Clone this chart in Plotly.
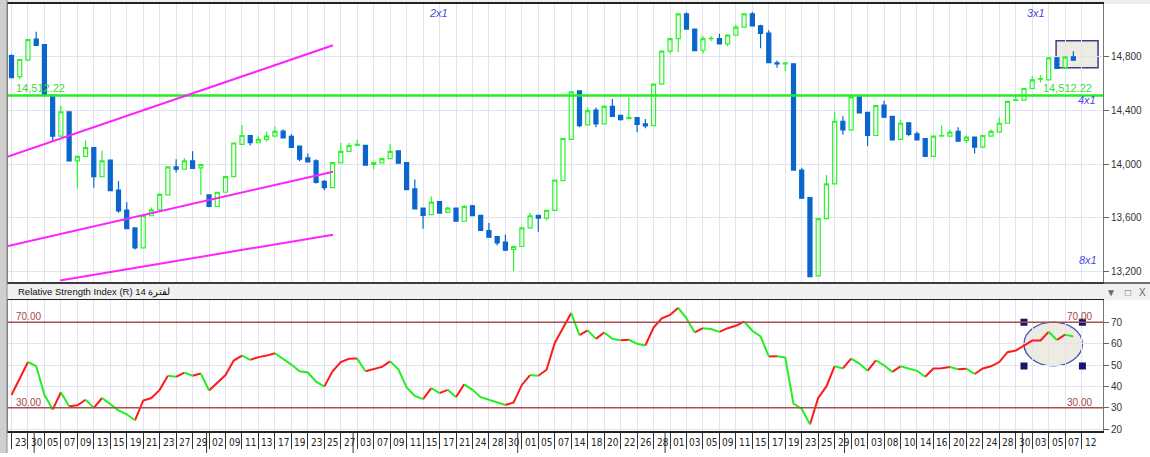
import plotly.graph_objects as go

W, H = 1150, 457

# ---------------- data ----------------
date_labels = ["23","30","05","07","09","13","15","19","21","23","27","29","02","09","11","13","17","19","23","25",
               "27","03","07","09","11","15","17","21","24","28","30","01","05","07","14","18","20","22","26","28",
               "01","03","05","09","11","15","17","19","23","25","29","01","03","08","10","14","16","20","22","24",
               "28","30","03","05","07","12"]

opens = [14810,14652,14775,14933,14891,14515,14209,14391,14025,14059,
         14123,13907,14030,13808,13658,13525,13377,13616,13660,13771,
         13980,13963,14025,13973,13771,13685,13791,13907,14148,14214,
         14160,14185,14209,14246,14207,14135,14047,14025,13872,13825,
         14010,14096,14140,14140,13998,14010,14042,14099,14012,13816,
         13673,13624,13722,13641,13673,13575,13690,13619,13506,13461,
         13419,13365,13387,13525,13619,13599,13656,13877,14185,14547,
         14293,14404,14300,14431,14364,14340,14347,14300,14288,14596,
         14842,14935,15120,15007,14849,14935,14935,14896,14962,15021,
         15120,15031,14977,14756,14748,14748,13956,13752,13168,13594,
         13853,14320,14256,14502,14387,14214,14441,14357,14185,14308,
         14227,14190,14059,14209,14209,14244,14177,14202,14128,14209,
         14239,14305,14475,14478,14564,14633,14628,14793,14714,14800]

highs = [14820,14785,14933,14987,14891,14515,14436,14391,14059,14177,
         14123,14101,14030,13875,13717,13525,13619,13678,13784,13985,
         14037,14047,14096,13998,13771,13791,13907,14158,14293,14214,
         14209,14244,14281,14259,14224,14135,14079,14037,13882,14012,
         14158,14158,14185,14140,14012,14042,14150,14099,14012,13887,
         13673,13759,13722,13685,13673,13697,13697,13619,13562,13461,
         13476,13392,13525,13636,13619,13656,13882,14190,14539,14547,
         14423,14423,14441,14485,14364,14497,14347,14337,14596,14842,
         14935,15125,15130,15007,14958,14953,14972,14967,15039,15125,
         15135,15039,14999,14773,14756,14748,13973,13752,13594,13919,
         14394,14357,14502,14517,14387,14436,14473,14357,14332,14308,
         14244,14190,14209,14288,14256,14276,14212,14202,14214,14259,
         14350,14468,14522,14570,14657,14662,14798,14793,14800,14842]

lows = [14640,14633,14775,14886,14515,14170,14209,14025,13820,14059,
        13825,13907,13803,13638,13520,13365,13377,13616,13660,13771,
        13939,13958,13968,13771,13680,13685,13791,13907,14148,14140,
        14160,14170,14209,14197,14126,14022,14017,13857,13806,13825,
        14010,14096,14140,13993,13963,14010,14042,14003,13811,13668,
        13520,13624,13636,13641,13575,13575,13616,13506,13456,13395,
        13353,13205,13387,13520,13496,13579,13656,13877,14185,14276,
        14293,14276,14300,14357,14325,14340,14239,14268,14288,14596,
        14825,14834,15007,14847,14825,14918,14896,14879,14962,15021,
        15031,14864,14756,14719,14694,13956,13747,13163,13168,13594,
        13853,14219,14256,14382,14135,14214,14350,14182,14185,14209,
        14182,14059,14059,14205,14204,14172,14158,14079,14128,14209,
        14239,14305,14473,14478,14564,14608,14628,14714,14714,14775]

closes = [14645,14780,14928,14886,14522,14209,14391,14025,14059,14123,
          13907,14025,13803,13653,13520,13377,13619,13660,13776,13980,
          13963,14025,13968,13998,13685,13791,13907,14158,14214,14160,
          14185,14209,14244,14197,14126,14037,14017,13865,13825,14012,
          14096,14138,14148,13993,14012,14042,14096,14008,13811,13668,
          13619,13717,13636,13673,13575,13685,13616,13506,13456,13414,
          13360,13387,13525,13616,13599,13656,13882,14190,14539,14288,
          14399,14300,14431,14357,14332,14347,14296,14286,14596,14842,
          14935,15120,15007,14847,14935,14938,14896,14962,15021,15120,
          15031,14975,14756,14748,14756,13956,13747,13163,13594,13853,
          14320,14256,14502,14382,14214,14436,14350,14182,14305,14222,
          14182,14059,14209,14214,14239,14172,14202,14128,14214,14244,
          14305,14468,14480,14564,14628,14638,14793,14714,14800,14775]

rsi = [36.0,43.7,51.4,49.5,36.1,29.2,37.3,30.8,31.2,33.8,
       30.0,34.6,31.5,28.8,27.0,24.2,33.4,34.6,38.4,45.0,
       44.5,46.5,45.0,46.0,38.1,41.5,45.3,52.1,54.4,52.4,
       53.7,54.4,55.5,52.9,50.2,47.1,46.5,42.2,39.9,47.1,
       51.4,52.9,53.0,47.1,48.0,49.1,51.7,48.0,39.5,35.6,
       34.1,39.2,36.9,38.4,35.0,41.0,38.4,35.0,33.8,32.7,
       31.3,32.5,40.7,45.3,45.0,47.8,60.3,67.5,74.3,64.0,
       66.2,62.2,65.2,62.2,61.6,61.8,59.9,59.1,67.5,71.8,
       73.4,76.7,71.8,65.2,67.2,66.8,65.5,67.2,68.3,70.3,
       66.0,63.4,54.0,54.1,53.5,32.0,29.5,22.3,34.6,40.0,
       49.5,48.4,53.0,50.7,47.3,52.2,49.9,46.8,49.4,48.4,
       47.3,44.5,48.4,48.5,49.1,48.0,48.3,45.8,48.4,49.4,
       51.4,56.0,56.8,59.1,61.4,61.5,65.5,61.7,64.2,63.3]

price_ticks = [13200, 13600, 14000, 14400, 14800]
price_tick_text = ["13,200", "13,600", "14,000", "14,400", "14,800"]
rsi_ticks = [20, 30, 40, 50, 60, 70]
level_price = 14512.22
rsi_levels = [70, 30]

# drawing objects (index, price) / (index, rsi)
fan_lines = [((-0.43, 14057), (39.06, 14886)),
             ((-0.43, 13390), (39.06, 13944)),
             ((5.89, 13134), (39.06, 13475))]
price_box = ((126.9, 14719), (132.0, 14920))
rsi_ellipse = ((123.0, 49.6), (130.1, 70.0))
month_breaks = [2.75, 23.7, 41.5, 61.5, 79.4, 101.2, 122.8]

# ---------------- geometry helpers ----------------
def px_x(p):
    return p / W

def px_y(p):
    return 1 - p / H

idx = list(range(len(opens)))
label_idx = [2 * k for k in range(len(date_labels))]

X_RANGE = [-0.425, 132.6]
XDOM = [px_x(8), px_x(1103)]

GRID = "#e3e3ef"
BLUE = "#0a66cc"
GREEN = "#2af52a"
RED = "#ff1a1a"
RSIG = "#22ee22"
LEVEL = "#a85050"
NARROW = "Liberation Sans Narrow, Arial Narrow, DejaVu Sans Condensed, Liberation Sans, Arial, sans-serif"

fig = go.Figure()

fig.add_trace(go.Candlestick(
    x=idx, open=opens, high=highs, low=lows, close=closes,
    xaxis="x", yaxis="y",
    increasing=dict(line=dict(color=GREEN, width=1.2), fillcolor="rgba(0,0,0,0)"),
    decreasing=dict(line=dict(color=BLUE, width=1.2), fillcolor=BLUE),
    whiskerwidth=0, showlegend=False, hoverinfo="skip"))

# RSI coloured by direction: runs of rising (red) / falling (green) segments
up_x, up_y, dn_x, dn_y = [], [], [], []
run_dir, run_pts = None, []
def flush(direction, pts):
    if not pts:
        return
    tx, ty = (up_x, up_y) if direction else (dn_x, dn_y)
    tx.extend([p[0] for p in pts] + [None])
    ty.extend([p[1] for p in pts] + [None])
for i in range(len(rsi) - 1):
    d = rsi[i + 1] >= rsi[i]
    if d != run_dir:
        flush(run_dir, run_pts)
        run_dir, run_pts = d, [(idx[i], rsi[i])]
    run_pts.append((idx[i + 1], rsi[i + 1]))
flush(run_dir, run_pts)

fig.add_trace(go.Scatter(x=up_x, y=up_y, xaxis="x2", yaxis="y2", mode="lines",
                         line=dict(color=RED, width=2), connectgaps=False,
                         showlegend=False, hoverinfo="skip"))
fig.add_trace(go.Scatter(x=dn_x, y=dn_y, xaxis="x2", yaxis="y2", mode="lines",
                         line=dict(color=RSIG, width=2), connectgaps=False,
                         showlegend=False, hoverinfo="skip"))

# ellipse handles
(ex0, ey0), (ex1, ey1) = rsi_ellipse
fig.add_trace(go.Scatter(x=[ex0, ex1, ex0, ex1], y=[ey1, ey1, ey0, ey0], xaxis="x2", yaxis="y2",
                         mode="markers", marker=dict(symbol="square", size=7, color="#16166e"),
                         showlegend=False, hoverinfo="skip"))

shapes = []
# background bands
shapes.append(dict(type="rect", xref="paper", yref="paper", x0=0, x1=px_x(7), y0=0, y1=1,
                   fillcolor="#cfcfcf", line=dict(width=0), layer="below"))
shapes.append(dict(type="rect", xref="paper", yref="paper", x0=px_x(7), x1=1, y0=px_y(4), y1=1,
                   fillcolor="#ededed", line=dict(width=0), layer="below"))
shapes.append(dict(type="rect", xref="paper", yref="paper", x0=px_x(7), x1=1, y0=px_y(303), y1=px_y(285),
                   fillcolor="#f0f0f0", line=dict(width=0), layer="below"))
shapes.append(dict(type="line", xref="paper", yref="paper", x0=px_x(7), x1=1, y0=px_y(285.5), y1=px_y(285.5),
                   line=dict(color="#444", width=1.5)))
shapes.append(dict(type="line", xref="paper", yref="paper", x0=px_x(7), x1=px_x(7), y0=0, y1=1,
                   line=dict(color="#8a8a8a", width=1)))
# box on price panel
(bx0, by0), (bx1, by1) = price_box
shapes.append(dict(type="rect", xref="x", yref="y", x0=bx0, x1=bx1, y0=by0, y1=by1,
                   fillcolor="#eeece2", line=dict(color="#3c3c8c", width=1.5), layer="below"))
# level line
shapes.append(dict(type="line", xref="x", yref="y", x0=X_RANGE[0], x1=X_RANGE[1], y0=level_price, y1=level_price,
                   line=dict(color="#22ee22", width=2.5)))
# fan lines
for (a, b) in fan_lines:
    shapes.append(dict(type="line", xref="x", yref="y", x0=a[0], y0=a[1], x1=b[0], y1=b[1],
                       line=dict(color="#ff22ff", width=2)))
# ellipse
shapes.append(dict(type="circle", xref="x2", yref="y2", x0=ex0, x1=ex1, y0=ey0, y1=ey1,
                   fillcolor="#eeece2", line=dict(color="#3c50b4", width=1.3), layer="below"))
# RSI levels
for lv in rsi_levels:
    shapes.append(dict(type="line", xref="x2", yref="y2", x0=X_RANGE[0], x1=X_RANGE[1], y0=lv, y1=lv,
                       line=dict(color=LEVEL, width=1.5)))
# month separators
for m in month_breaks:
    shapes.append(dict(type="line", xref="x2", yref="paper", x0=m, x1=m, y0=0, y1=px_y(435),
                       line=dict(color="#333", width=1)))

ann = []
for k, t in enumerate(date_labels):
    ann.append(dict(x=label_idx[k], y=px_y(445), xref="x2", yref="paper", text=t, showarrow=False,
                    xanchor="left", yanchor="middle", xshift=1, yshift=-1,
                    font=dict(size=10, color="#222", family=NARROW)))
lvl_txt = f"{level_price:,.2f}"
ann.append(dict(x=px_x(14), y=level_price, xref="paper", yref="y", text=lvl_txt, showarrow=False,
                xanchor="left", yanchor="bottom", yshift=-1, font=dict(size=11, color="#33dd33")))
ann.append(dict(x=px_x(1094), y=level_price, xref="paper", yref="y", text=lvl_txt, showarrow=False,
                xanchor="right", yanchor="bottom", yshift=-1, font=dict(size=11, color="#33dd33")))
for txt, cx, cy, anc in [("2x1", 438.5, 13, "center"), ("3x1", 1036, 13, "center"),
                         ("4x1", 1098, 101, "right"), ("8x1", 1099, 262, "right")]:
    ann.append(dict(x=px_x(cx), y=px_y(cy), xref="paper", yref="paper", text=f"<i>{txt}</i>",
                    showarrow=False, xanchor=anc, yanchor="middle",
                    font=dict(size=11, color="#4a4ae6")))
for lv in rsi_levels:
    for xx, anc in [(px_x(14), "left"), (px_x(1094), "right")]:
        ann.append(dict(x=xx, y=lv, xref="paper", yref="y2", text=f"{lv:.2f}", showarrow=False,
                        xanchor=anc, yanchor="bottom", yshift=-2,
                        font=dict(size=10, color="#a04848")))
ann.append(dict(x=px_x(16), y=px_y(295), xref="paper", yref="paper",
                text="Relative Strength Index (R) 14 لفترة", showarrow=False,
                xanchor="left", yanchor="middle", font=dict(size=9.5, color="#111")))
for txt, cx in [("▼", 1111), ("□", 1128), ("X", 1142)]:
    ann.append(dict(x=px_x(cx), y=px_y(295), xref="paper", yref="paper", text=txt, showarrow=False,
                    xanchor="center", yanchor="middle", font=dict(size=10, color="#666")))

fig.update_layout(
    width=W, height=H, autosize=False,
    margin=dict(l=0, r=0, t=0, b=0, pad=0),
    paper_bgcolor="white", plot_bgcolor="white",
    font=dict(family="Liberation Sans, Arial, sans-serif", size=10, color="#333"),
    showlegend=False,
    xaxis=dict(domain=XDOM, range=X_RANGE, anchor="y", tickmode="array", tickvals=label_idx,
               showticklabels=False, ticks="", showgrid=True, gridcolor=GRID, gridwidth=1,
               zeroline=False, showline=True, mirror=True, linecolor="#222", linewidth=2,
               rangeslider=dict(visible=False), fixedrange=True),
    yaxis=dict(domain=[px_y(284), px_y(4)], range=[13126, 15194], anchor="x", side="right",
               tickmode="array", tickvals=price_ticks, ticktext=price_tick_text,
               ticks="outside", ticklen=5, tickcolor="#666", tickfont=dict(size=10, color="#333"),
               showgrid=True, gridcolor=GRID, zeroline=False,
               showline=True, mirror=True, linecolor="#777", linewidth=1),
    xaxis2=dict(domain=XDOM, range=X_RANGE, anchor="y2", tickmode="array", tickvals=label_idx,
                showticklabels=False, ticks="outside", ticklen=16, tickcolor="#333", tickwidth=1,
                showgrid=True, gridcolor=GRID, zeroline=False,
                showline=True, mirror=True, linecolor="#222", linewidth=1.5),
    yaxis2=dict(domain=[px_y(435), px_y(303)], range=[19.1, 80.2], anchor="x2", side="right",
                tickmode="array", tickvals=rsi_ticks, ticks="outside", ticklen=5, tickcolor="#666",
                tickfont=dict(size=10, color="#333"), showgrid=True, gridcolor=GRID, zeroline=False,
                showline=True, mirror=True, linecolor="#777", linewidth=1),
    shapes=shapes,
    annotations=ann,
)

fig.write_html("out.html",
               config={"displayModeBar": False, "responsive": False, "staticPlot": True},
               post_script="document.body.style.margin='0px';document.body.style.padding='0px';"
                           "document.body.style.overflow='hidden';")
